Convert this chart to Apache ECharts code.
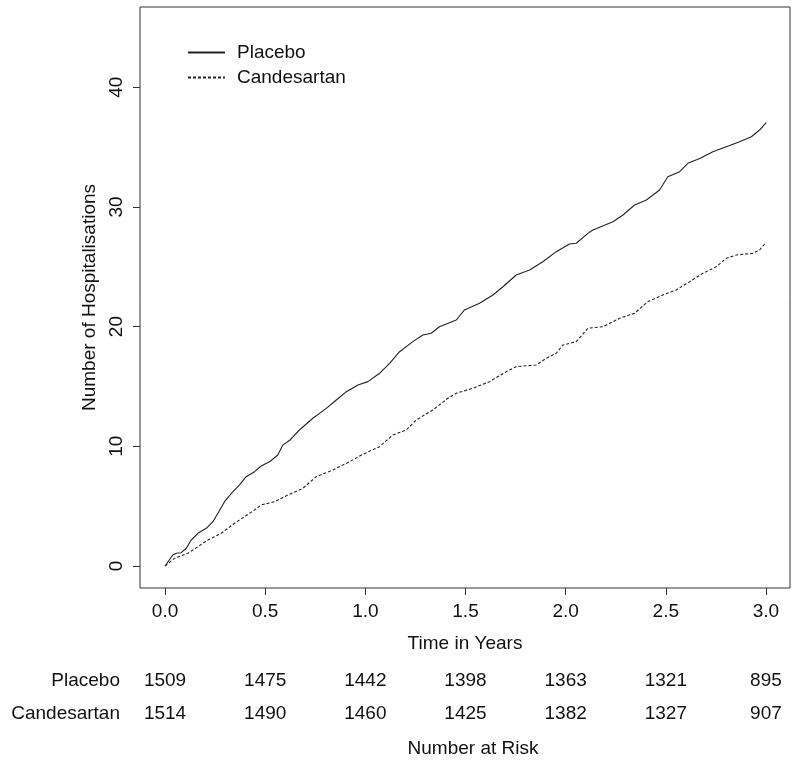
<!DOCTYPE html>
<html><head><meta charset="utf-8">
<script src="https://cdn.jsdelivr.net/npm/echarts@6/dist/echarts.min.js"></script>
<style>html,body{margin:0;padding:0;background:#fff}#c{width:800px;height:764px}</style>
</head><body><div id="c"></div>
<script>
// ---- data ----
const placeboTime = [0, 0.039, 0.056, 0.081, 0.106, 0.131, 0.164, 0.206, 0.239, 0.264, 0.297, 0.339, 0.372, 0.405, 0.447, 0.480, 0.522, 0.563, 0.588, 0.622, 0.671, 0.738, 0.805, 0.855, 0.905, 0.963, 1.013, 1.071, 1.121, 1.171, 1.237, 1.287, 1.329, 1.370, 1.454, 1.495, 1.570, 1.637, 1.687, 1.753, 1.820, 1.886, 1.953, 2.019, 2.053, 2.111, 2.136, 2.236, 2.286, 2.344, 2.403, 2.469, 2.510, 2.569, 2.610, 2.669, 2.735, 2.802, 2.868, 2.927, 2.968, 3.001];
const placeboValue = [0, 0.92, 1.06, 1.11, 1.48, 2.17, 2.73, 3.15, 3.70, 4.40, 5.37, 6.21, 6.77, 7.46, 7.88, 8.35, 8.71, 9.27, 10.1, 10.5, 11.36, 12.34, 13.17, 13.87, 14.56, 15.12, 15.40, 16.10, 16.93, 17.90, 18.74, 19.30, 19.44, 19.99, 20.55, 21.39, 21.95, 22.64, 23.33, 24.31, 24.73, 25.42, 26.26, 26.90, 26.96, 27.79, 28.07, 28.76, 29.32, 30.16, 30.58, 31.41, 32.52, 32.94, 33.64, 34.05, 34.61, 35.03, 35.45, 35.86, 36.42, 37.04];
const candesartanTime = [0, 0.047, 0.114, 0.164, 0.214, 0.281, 0.347, 0.397, 0.447, 0.480, 0.547, 0.613, 0.688, 0.755, 0.838, 0.921, 0.980, 1.071, 1.137, 1.204, 1.254, 1.337, 1.412, 1.454, 1.537, 1.620, 1.703, 1.753, 1.853, 1.903, 1.953, 1.986, 2.053, 2.111, 2.186, 2.269, 2.344, 2.410, 2.485, 2.552, 2.619, 2.685, 2.752, 2.802, 2.852, 2.935, 2.968, 2.993];
const candesartanValue = [0, 0.64, 1.06, 1.61, 2.17, 2.73, 3.57, 4.12, 4.68, 5.10, 5.37, 5.93, 6.49, 7.46, 8.02, 8.71, 9.27, 9.97, 10.94, 11.36, 12.20, 13.03, 14.01, 14.43, 14.85, 15.40, 16.23, 16.65, 16.79, 17.35, 17.77, 18.46, 18.74, 19.86, 19.99, 20.69, 21.11, 22.08, 22.64, 23.06, 23.75, 24.45, 25.00, 25.71, 25.98, 26.12, 26.40, 26.90];
const xTicks = [0, 0.5, 1.0, 1.5, 2.0, 2.5, 3.0];
const yTicks = [0, 10, 20, 30, 40];
const placeboAtRisk = [1509, 1475, 1442, 1398, 1363, 1321, 895];
const candesartanAtRisk = [1514, 1490, 1460, 1425, 1382, 1327, 907];
const seriesNames = ['Placebo', 'Candesartan'];

// ---- chart ----
const FONT = '"Liberation Sans", Arial, Helvetica, sans-serif';
const FS = 19;
const pairs = (t, v) => t.map((x, i) => [x, v[i]]);
const riskFmt = arr => v => {
  const i = xTicks.findIndex(t => Math.abs(t - v) < 1e-6);
  return i >= 0 ? String(arr[i]) : '';
};
const xMin = -0.125, xMax = 3.12;
const hiddenAxisBase = {
  type: 'value', min: xMin, max: xMax, position: 'bottom',
  axisLine: { show: false, onZero: false }, axisTick: { show: false }, splitLine: { show: false }
};
const chart = echarts.init(document.getElementById('c'), null, { renderer: 'canvas' });
chart.setOption({
  animation: false,
  backgroundColor: '#fff',
  textStyle: { fontFamily: FONT },
  grid: { left: 140, top: 7, width: 650, height: 581, show: true, borderColor: '#333', borderWidth: 1, backgroundColor: 'transparent' },
  legend: {
    data: seriesNames, orient: 'vertical', left: 182, top: 38,
    itemWidth: 37, itemHeight: 14, itemGap: 6,
    itemStyle: { color: 'rgba(0,0,0,0)', borderColor: 'rgba(0,0,0,0)', borderWidth: 0 },
    textStyle: { fontSize: FS, color: '#111', fontFamily: FONT, padding: [0, 0, 0, 7] }
  },
  xAxis: [
    {
      type: 'value', min: xMin, max: xMax, position: 'bottom',
      axisLine: { show: false, onZero: false }, splitLine: { show: false },
      axisTick: { show: true, customValues: xTicks, length: 7, lineStyle: { color: '#333' } },
      axisLabel: { customValues: xTicks, formatter: v => v.toFixed(1), fontSize: FS, color: '#111', margin: 24, verticalAlign: 'middle' },
      name: 'Time in Years', nameLocation: 'middle', nameGap: 56,
      nameTextStyle: { fontSize: FS, color: '#111', verticalAlign: 'middle' }
    },
    Object.assign({}, hiddenAxisBase, {
      offset: 93,
      axisLabel: { customValues: xTicks, formatter: riskFmt(placeboAtRisk), fontSize: FS, color: '#111', margin: 0, verticalAlign: 'middle' }
    }),
    Object.assign({}, hiddenAxisBase, {
      offset: 126,
      axisLabel: { customValues: xTicks, formatter: riskFmt(candesartanAtRisk), fontSize: FS, color: '#111', margin: 0, verticalAlign: 'middle' },
      name: 'Number at Risk', nameLocation: 'middle', nameGap: 35,
      nameTextStyle: { fontSize: FS, color: '#111', verticalAlign: 'middle', padding: [0, 0, 0, 16] }
    })
  ],
  yAxis: {
    type: 'value', min: -1.84, max: 46.7,
    axisLine: { show: false, onZero: false }, splitLine: { show: false },
    axisTick: { show: true, customValues: yTicks, length: 7, lineStyle: { color: '#333' } },
    axisLabel: { customValues: yTicks, rotate: 90, fontSize: FS, color: '#111', margin: 23, verticalAlign: 'middle' },
    name: 'Number of Hospitalisations', nameLocation: 'middle', nameGap: 50, nameRotate: 90,
    nameTextStyle: { fontSize: FS, color: '#111', verticalAlign: 'middle' }
  },
  graphic: [
    { type: 'text', style: { text: seriesNames[0], x: 120, y: 681, align: 'right', verticalAlign: 'middle', textAlign: 'right', textVerticalAlign: 'middle', fontSize: FS, fontFamily: FONT, fill: '#111' } },
    { type: 'text', style: { text: seriesNames[1], x: 120, y: 714, align: 'right', verticalAlign: 'middle', textAlign: 'right', textVerticalAlign: 'middle', fontSize: FS, fontFamily: FONT, fill: '#111' } }
  ],
  series: [
    { name: seriesNames[0], type: 'line', xAxisIndex: 0, data: pairs(placeboTime, placeboValue), symbol: 'none', showSymbol: false,
      lineStyle: { color: '#222', width: 1.1, type: 'solid' }, itemStyle: { color: '#222' } },
    { name: seriesNames[1], type: 'line', xAxisIndex: 0, data: pairs(candesartanTime, candesartanValue), symbol: 'none', showSymbol: false,
      lineStyle: { color: '#222', width: 1.1, type: [3, 2] }, itemStyle: { color: '#222' } }
  ]
});
</script></body></html>
